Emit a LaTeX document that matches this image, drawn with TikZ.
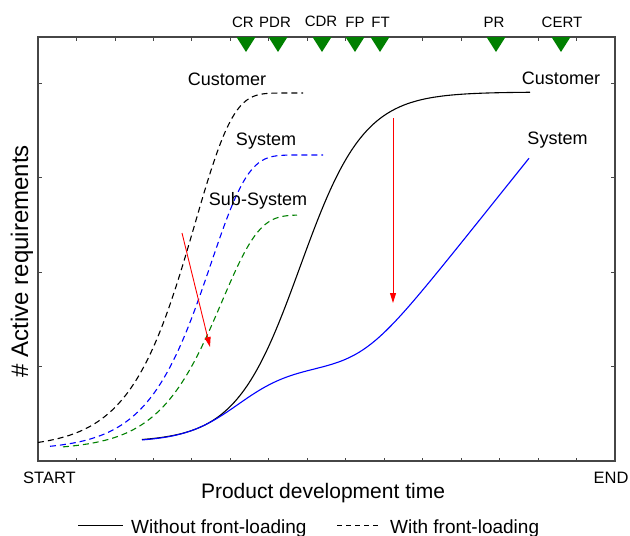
\documentclass[tikz,border=0pt]{standalone}
\usepackage{fontspec}
\setmainfont{Liberation Sans}
\usetikzlibrary{arrows.meta}
\definecolor{dgreen}{RGB}{0,128,0}
\definecolor{axisgray}{RGB}{70,70,70}
\tikzset{
  curve/.style={line width=1.1pt, samples=90, smooth},
  dashcurve/.style={curve, dash pattern=on 6pt off 4pt},
  redarrow/.style={draw=red, line width=0.9pt, -{Triangle[length=10pt,width=6pt]}},
  lbl/.style={font=\fontsize{18}{20}\selectfont, inner sep=0pt},
  mslbl/.style={font=\fontsize{15}{17}\selectfont, inner sep=0pt},
  milestone/.style={fill=dgreen, draw=none},
  tick/.style={draw=axisgray, line width=0.8pt},
}
\begin{document}
\begin{tikzpicture}[x=1pt,y=-1pt]
\useasboundingbox (0,0) rectangle (630,536);
% plot box
\draw[axisgray, line width=1.3pt] (38,37) rectangle (615,461);
% x ticks
\foreach \k in {1,...,14}{
  \draw[tick] ({38+\k*38.47},461) -- ({38+\k*38.47},457.5);
  \draw[tick] ({38+\k*38.47},37) -- ({38+\k*38.47},40.5);
}
% y ticks
\foreach \yy in {83,177.5,272,366.5}{
  \draw[tick] (38,\yy) -- (42,\yy);
  \draw[tick] (615,\yy) -- (611,\yy);
}
% milestones
\foreach \xx in {246,278,322,355,380,496,561}{
  \fill[milestone] (\xx-9.5,37) -- (\xx+9.5,37) -- (\xx,52) -- cycle;
}
\node[mslbl] (cr) at (243,22) {CR};
\node[mslbl] (pdr) at (275,22) {PDR};
\node[mslbl] (cdr) at (321,21) {CDR};
\node[mslbl] (fp) at (355,22) {FP};
\node[mslbl] (ft) at (380.5,22) {FT};
\node[mslbl] (pr) at (494,22) {PR};
\node[mslbl] (cert) at (562,22) {CERT};
% with front-loading (dashed)
\draw[dashcurve, black] plot[domain=38:303] (\x, {448-355*(1-exp(-exp((\x-195)/38)))});
\draw[dashcurve, blue] plot[domain=50:323] (\x, {450-295*(1-exp(-exp((\x-211)/37)))});
\draw[dashcurve, dgreen] plot[domain=63:297] (\x, {450-235*(1-exp(-exp((\x-222)/37)))});
% without front-loading (solid)
\draw[curve, black] plot[domain=142:530] (\x, {442-350/(1+exp(-(\x-300)/32))});
\draw[curve, blue] plot[domain=142:529] (\x, {442-75/(1+exp(-(\x-238)/27))-25*ln(1+exp((\x-362)/20))});
% curve labels
\node[lbl] (custA) at (227,79) {Customer};
\node[lbl] (sysA) at (266,141) {System};
\node[lbl] (subA) at (258,201) {Sub-System};
\node[lbl] (custB) at (561,78) {Customer};
\node[lbl] (sysB) at (557.5,140) {System};
% red arrows
\coordinate (a1s) at (182,233);
\coordinate (a1e) at (210,347);
\coordinate (a2s) at (393,118);
\coordinate (a2e) at (393,303);
\draw[redarrow] (a1s) -- (a1e);
\draw[redarrow] (a2s) -- (a2e);
% axis labels
\node[font=\fontsize{24}{26}\selectfont, rotate=90, anchor=base, inner sep=0pt] (ylab) at (28,261) {\# Active requirements};
\node[font=\fontsize{16.5}{18}\selectfont, inner sep=0pt] (start) at (49.5,477.5) {START};
\node[font=\fontsize{16.5}{18}\selectfont, inner sep=0pt] (end) at (611,478) {END};
\node[font=\fontsize{21}{23}\selectfont, anchor=base, inner sep=0pt] (xlab) at (323,498) {Product development time};
% legend
\coordinate (l1a) at (78,525.5);
\coordinate (l1b) at (123,525.5);
\coordinate (l2a) at (337,525.5);
\coordinate (l2b) at (379,525.5);
\draw[black, line width=1.1pt] (l1a) -- (l1b);
\draw[black, line width=1.1pt, dash pattern=on 5pt off 4pt] (l2a) -- (l2b);
\node[font=\fontsize{19}{21}\selectfont, anchor=base west, inner sep=0pt] (leg1) at (131,533) {Without front-loading};
\node[font=\fontsize{19}{21}\selectfont, anchor=base west, inner sep=0pt] (leg2) at (390,533) {With front-loading};
\end{tikzpicture}
\end{document}
